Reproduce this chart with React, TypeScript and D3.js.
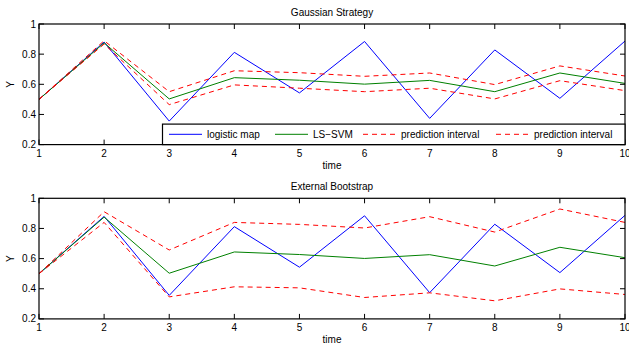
import React from 'react';
import * as d3 from 'd3';

const times = [1, 2, 3, 4, 5, 6, 7, 8, 9, 10];
const logisticMap = [0.5, 0.88, 0.356, 0.812, 0.543, 0.884, 0.374, 0.828, 0.507, 0.887];
const lsSvm = [0.5, 0.875, 0.503, 0.644, 0.627, 0.601, 0.626, 0.551, 0.675, 0.606];
const gaussUpper = [0.5, 0.889, 0.551, 0.69, 0.677, 0.653, 0.675, 0.598, 0.722, 0.655];
const gaussLower = [0.5, 0.867, 0.465, 0.596, 0.574, 0.551, 0.574, 0.503, 0.624, 0.558];
const bootUpper = [0.5, 0.911, 0.657, 0.84, 0.827, 0.803, 0.878, 0.776, 0.929, 0.84];
const bootLower = [0.5, 0.84, 0.346, 0.413, 0.406, 0.342, 0.373, 0.32, 0.399, 0.362];
const yTicks = [0.2, 0.4, 0.6, 0.8, 1];
const legendItems = [
  { label: 'logistic map', color: '#0000ff', dash: null },
  { label: 'LS\u2212SVM', color: '#008000', dash: null },
  { label: 'prediction interval', color: '#ff0000', dash: '5,4' },
  { label: 'prediction interval', color: '#ff0000', dash: '5,4' },
];
const legendOffsets = [0, 106, 194, 327];

const font = 'Liberation Sans, Arial, Helvetica, sans-serif';

const x = d3.scaleLinear().domain([1, 10]).range([39, 625]);

function Panel({ top, title, upper, lower, legend }) {
  const height = 120.6;
  const y = d3.scaleLinear().domain([0.2, 1]).range([top + height, top]);
  const line = d3.line<number>().x((d, i) => x(times[i])).y((d) => y(d));
  const [x0, x1] = x.range();
  const tickLen = 5;
  return (
    <g fontFamily={font} fontSize={10}>
      <text x={(x0 + x1) / 2} y={top - 8} textAnchor="middle" fill="#000">{title}</text>
      <path d={line(logisticMap)} fill="none" stroke="#0000ff" strokeWidth={1} />
      <path d={line(lsSvm)} fill="none" stroke="#008000" strokeWidth={1} />
      <path d={line(upper)} fill="none" stroke="#ff0000" strokeWidth={1} strokeDasharray="5,4" />
      <path d={line(lower)} fill="none" stroke="#ff0000" strokeWidth={1} strokeDasharray="5,4" />
      {times.map((t) => (
        <g key={t}>
          <line x1={x(t)} x2={x(t)} y1={top + height} y2={top + height - tickLen} stroke="#000" />
          <line x1={x(t)} x2={x(t)} y1={top} y2={top + tickLen} stroke="#000" />
          <text x={x(t)} y={top + height + 12} textAnchor="middle" fill="#000">{t}</text>
        </g>
      ))}
      {yTicks.map((v) => (
        <g key={v}>
          <line x1={x0} x2={x0 + tickLen} y1={y(v)} y2={y(v)} stroke="#000" />
          <line x1={x1} x2={x1 - tickLen} y1={y(v)} y2={y(v)} stroke="#000" />
          <text x={x0 - 3} y={y(v) + 3.5} textAnchor="end" fill="#000">{v === 1 ? '1' : v.toFixed(1)}</text>
        </g>
      ))}
      <rect x={x0} y={top} width={x1 - x0} height={height} fill="none" stroke="#000" strokeWidth={1.2} />
      <text transform={`translate(14,${top + height / 2}) rotate(-90)`} textAnchor="middle" fill="#000">Y</text>
      <text x={(x0 + x1) / 2} y={top + height + 24} textAnchor="middle" fill="#000">time</text>
      {legend && (
        <g>
          <rect x={162.5} y={top + height - 20.5} width={x1 - 162.5} height={20.5} fill="#fff" stroke="#000" strokeWidth={1.2} />
          {legendItems.map((it, i) => {
            const lx = 169 + legendOffsets[i];
            const ly = top + height - 10.3;
            return (
              <g key={i}>
                <line x1={lx} x2={lx + 33} y1={ly} y2={ly} stroke={it.color} strokeWidth={1} strokeDasharray={it.dash || undefined} />
                <text x={lx + 38} y={ly + 3.5} fill="#000">{it.label}</text>
              </g>
            );
          })}
        </g>
      )}
    </g>
  );
}

export default function App() {
  return (
    <svg width={629} height={343} style={{ position: 'absolute', left: 0, top: 0, background: '#fff' }}>
      <rect width={629} height={343} fill="#fff" />
      <Panel top={24} title="Gaussian Strategy" upper={gaussUpper} lower={gaussLower} legend />
      <Panel top={198.3} title="External Bootstrap" upper={bootUpper} lower={bootLower} legend={false} />
    </svg>
  );
}
